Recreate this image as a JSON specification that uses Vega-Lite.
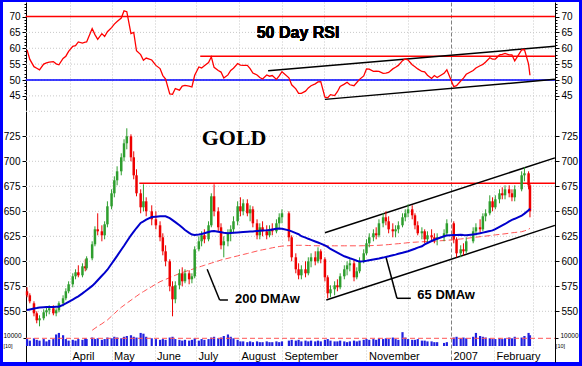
{
"$schema":"https://vega.github.io/schema/vega-lite/v6.json",
"width":576,"height":360,"autosize":"none",
"padding":{"left":3,"top":2,"right":3,"bottom":4},
"background":"#0000ff",
"config":{"view":{"fill":"#ffffff","stroke":null},"axis":{"labelFont":"Liberation Sans","labelColor":"#000000","tickColor":"#000000","domainColor":"#000000","labelFontSize":10,"grid":false}},
"datasets":{
"main":[
{"d":"2006-03-01","o":570,"h":574,"l":564,"c":566,"r":59.5,"v":9000,"m":551.3},
{"d":"2006-03-03","o":566,"h":568,"l":558,"c":560,"r":56.5,"v":7000,"m":551.9},
{"d":"2006-03-06","o":558,"h":560,"l":545,"c":548,"r":54.2,"v":10000,"m":552.8},
{"d":"2006-03-08","o":548,"h":550,"l":538,"c":541,"r":53.7,"v":8000,"m":553.3},
{"d":"2006-03-10","o":541,"h":546,"l":535,"c":543,"r":53.2,"v":7000,"m":553.9},
{"d":"2006-03-13","o":543,"h":552,"l":541,"c":549,"r":55.0,"v":9000,"m":554.1},
{"d":"2006-03-15","o":549,"h":554,"l":545,"c":551,"r":55.4,"v":6000,"m":554.2},
{"d":"2006-03-17","o":551,"h":556,"l":547,"c":553,"r":55.6,"v":8000,"m":554.3},
{"d":"2006-03-20","o":553,"h":556,"l":546,"c":548,"r":55.8,"v":9000,"m":554.4},
{"d":"2006-03-22","o":548,"h":553,"l":545,"c":551,"r":55.1,"v":15000,"m":554.5},
{"d":"2006-03-24","o":551,"h":560,"l":549,"c":558,"r":54.8,"v":17000,"m":554.6},
{"d":"2006-03-27","o":558,"h":566,"l":555,"c":563,"r":56.8,"v":14000,"m":556.4},
{"d":"2006-03-29","o":563,"h":573,"l":561,"c":570,"r":57.5,"v":9000,"m":557.9},
{"d":"2006-03-31","o":570,"h":580,"l":568,"c":577,"r":59.0,"v":7000,"m":559.5},
{"d":"2006-04-03","o":577,"h":588,"l":574,"c":585,"r":60.6,"v":8000,"m":561.8},
{"d":"2006-04-05","o":585,"h":592,"l":582,"c":589,"r":60.8,"v":7000,"m":563.4},
{"d":"2006-04-07","o":589,"h":596,"l":584,"c":586,"r":62.0,"v":9000,"m":565.0},
{"d":"2006-04-10","o":586,"h":598,"l":584,"c":595,"r":61.6,"v":8000,"m":567.9},
{"d":"2006-04-12","o":595,"h":602,"l":590,"c":593,"r":61.9,"v":10000,"m":570.0},
{"d":"2006-04-13","o":593,"h":605,"l":591,"c":603,"r":62.0,"v":9000,"m":571.1},
{"d":"2006-04-17","o":603,"h":620,"l":601,"c":617,"r":66.2,"v":11000,"m":575.4,"s":531},
{"d":"2006-04-19","o":617,"h":635,"l":615,"c":632,"r":64.3,"v":9000,"m":578.0,"s":533},
{"d":"2006-04-21","o":632,"h":648,"l":626,"c":630,"r":62.8,"v":10000,"m":581.0,"s":535},
{"d":"2006-04-24","o":630,"h":636,"l":620,"c":626,"r":64.6,"v":8000,"m":585.5,"s":537.5},
{"d":"2006-04-26","o":626,"h":640,"l":622,"c":637,"r":63.7,"v":9000,"m":588.4,"s":539.5},
{"d":"2006-04-28","o":637,"h":660,"l":634,"c":655,"r":65.2,"v":11000,"m":591.6,"s":541.3},
{"d":"2006-05-01","o":655,"h":672,"l":652,"c":668,"r":66.5,"v":10000,"m":597.6,"s":545.2},
{"d":"2006-05-03","o":668,"h":685,"l":664,"c":681,"r":67.6,"v":12000,"m":601.5,"s":547.7},
{"d":"2006-05-05","o":681,"h":695,"l":676,"c":690,"r":68.4,"v":11000,"m":605.4,"s":550.3},
{"d":"2006-05-08","o":690,"h":708,"l":686,"c":704,"r":69.5,"v":10000,"m":611.6,"s":554.0},
{"d":"2006-05-10","o":704,"h":722,"l":700,"c":718,"r":71.8,"v":12000,"m":615.6,"s":556.0},
{"d":"2006-05-12","o":718,"h":733,"l":712,"c":725,"r":71.5,"v":13000,"m":619.8,"s":558.1},
{"d":"2006-05-15","o":725,"h":727,"l":700,"c":704,"r":64.6,"v":14000,"m":626.0,"s":561.1},
{"d":"2006-05-17","o":704,"h":710,"l":682,"c":686,"r":65.0,"v":12000,"m":629.6,"s":563.1},
{"d":"2006-05-19","o":686,"h":692,"l":665,"c":668,"r":59.2,"v":11000,"m":633.3,"s":565.1},
{"d":"2006-05-22","o":668,"h":672,"l":648,"c":654,"r":58.0,"v":17000,"m":638.4,"s":568.1},
{"d":"2006-05-24","o":654,"h":677,"l":650,"c":660,"r":56.2,"v":16000,"m":640.0,"s":569.7},
{"d":"2006-05-26","o":660,"h":664,"l":645,"c":650,"r":56.9,"v":12000,"m":641.7,"s":571.4},
{"d":"2006-05-30","o":650,"h":656,"l":636,"c":642,"r":56.3,"v":10000,"m":644.2,"s":574.7},
{"d":"2006-06-02","o":642,"h":650,"l":632,"c":636,"r":54.6,"v":9000,"m":644.6,"s":577.2},
{"d":"2006-06-05","o":636,"h":640,"l":620,"c":624,"r":53.6,"v":8000,"m":645.0,"s":579.6},
{"d":"2006-06-07","o":624,"h":628,"l":606,"c":610,"r":51.4,"v":9000,"m":645.0,"s":580.8},
{"d":"2006-06-09","o":610,"h":616,"l":595,"c":600,"r":50.3,"v":8000,"m":645.0,"s":581.9},
{"d":"2006-06-12","o":600,"h":602,"l":570,"c":575,"r":45.6,"v":11000,"m":643.1,"s":583.7},
{"d":"2006-06-14","o":575,"h":580,"l":545,"c":562,"r":45.5,"v":12000,"m":641.2,"s":584.9},
{"d":"2006-06-16","o":562,"h":580,"l":558,"c":576,"r":47.3,"v":9000,"m":639.2,"s":586.0},
{"d":"2006-06-19","o":576,"h":592,"l":572,"c":588,"r":46.8,"v":8000,"m":636.0,"s":587.8},
{"d":"2006-06-21","o":588,"h":594,"l":575,"c":580,"r":48.1,"v":7000,"m":633.7,"s":588.7},
{"d":"2006-06-23","o":580,"h":592,"l":578,"c":588,"r":48.3,"v":8000,"m":631.3,"s":589.7},
{"d":"2006-06-26","o":588,"h":591,"l":577,"c":582,"r":48.1,"v":7000,"m":628.4,"s":591.0},
{"d":"2006-06-28","o":582,"h":588,"l":578,"c":585,"r":47.8,"v":8000,"m":626.7,"s":591.9},
{"d":"2006-06-30","o":585,"h":615,"l":583,"c":612,"r":51.5,"v":10000,"m":626.3,"s":592.8},
{"d":"2006-07-03","o":612,"h":625,"l":610,"c":620,"r":54.1,"v":7000,"m":626.7,"s":594.2},
{"d":"2006-07-05","o":620,"h":630,"l":615,"c":626,"r":53.8,"v":9000,"m":627.3,"s":595.1},
{"d":"2006-07-07","o":626,"h":632,"l":618,"c":622,"r":54.5,"v":8000,"m":628.1,"s":596.0},
{"d":"2006-07-10","o":622,"h":640,"l":620,"c":636,"r":55.5,"v":9000,"m":629.3,"s":597.3},
{"d":"2006-07-12","o":636,"h":668,"l":634,"c":665,"r":57.3,"v":11000,"m":630.1,"s":598.2},
{"d":"2006-07-14","o":665,"h":677,"l":645,"c":650,"r":54.0,"v":12000,"m":630.4,"s":599.1},
{"d":"2006-07-17","o":650,"h":654,"l":630,"c":634,"r":53.0,"v":10000,"m":629.6,"s":600.4},
{"d":"2006-07-19","o":634,"h":638,"l":612,"c":616,"r":52.5,"v":11000,"m":629.1,"s":601.3},
{"d":"2006-07-21","o":616,"h":625,"l":604,"c":620,"r":50.6,"v":13000,"m":628.6,"s":602.0},
{"d":"2006-07-24","o":620,"h":632,"l":615,"c":628,"r":51.6,"v":15000,"m":628.1,"s":603.0},
{"d":"2006-07-26","o":628,"h":636,"l":620,"c":632,"r":53.0,"v":12000,"m":628.3,"s":603.7},
{"d":"2006-07-28","o":632,"h":645,"l":628,"c":640,"r":53.7,"v":10000,"m":628.5,"s":604.4},
{"d":"2006-07-31","o":640,"h":660,"l":636,"c":655,"r":55.2,"v":8000,"m":628.8,"s":605.4},
{"d":"2006-08-02","o":655,"h":664,"l":645,"c":650,"r":54.7,"v":6000,"m":629.0,"s":606.1},
{"d":"2006-08-04","o":650,"h":662,"l":646,"c":658,"r":54.6,"v":6000,"m":629.2,"s":606.8},
{"d":"2006-08-07","o":658,"h":662,"l":645,"c":648,"r":54.6,"v":5000,"m":629.5,"s":607.8},
{"d":"2006-08-09","o":648,"h":656,"l":640,"c":652,"r":53.6,"v":6000,"m":629.7,"s":608.5},
{"d":"2006-08-11","o":652,"h":655,"l":634,"c":638,"r":52.2,"v":5000,"m":629.9,"s":609.2},
{"d":"2006-08-14","o":638,"h":642,"l":622,"c":626,"r":51.6,"v":6000,"m":630.3,"s":610.3},
{"d":"2006-08-16","o":626,"h":638,"l":622,"c":634,"r":50.8,"v":5000,"m":630.5,"s":611.0},
{"d":"2006-08-18","o":634,"h":640,"l":625,"c":630,"r":50.3,"v":5000,"m":630.7,"s":611.5},
{"d":"2006-08-21","o":630,"h":636,"l":622,"c":626,"r":51.6,"v":6000,"m":631.0,"s":612.3},
{"d":"2006-08-23","o":626,"h":636,"l":624,"c":632,"r":51.2,"v":5000,"m":631.4,"s":612.9},
{"d":"2006-08-25","o":632,"h":638,"l":626,"c":630,"r":51.4,"v":5000,"m":631.9,"s":613.5},
{"d":"2006-08-28","o":630,"h":642,"l":628,"c":638,"r":50.2,"v":6000,"m":632.5,"s":614.3},
{"d":"2006-08-30","o":638,"h":648,"l":632,"c":644,"r":51.3,"v":5000,"m":632.9,"s":614.8},
{"d":"2006-09-01","o":644,"h":652,"l":638,"c":648,"r":52.6,"v":6000,"m":632.5,"s":615.2},
{"d":"2006-09-06","o":648,"h":650,"l":620,"c":624,"r":50.7,"v":7000,"m":630.9,"s":615.6},
{"d":"2006-09-08","o":624,"h":626,"l":600,"c":604,"r":48.5,"v":8000,"m":629.9,"s":615.8},
{"d":"2006-09-11","o":604,"h":608,"l":588,"c":592,"r":47.2,"v":7000,"m":628.2,"s":616},
{"d":"2006-09-13","o":592,"h":598,"l":582,"c":586,"r":45.8,"v":8000,"m":627.1,"s":616},
{"d":"2006-09-15","o":586,"h":596,"l":582,"c":592,"r":45.8,"v":6000,"m":625.1,"s":616},
{"d":"2006-09-18","o":592,"h":600,"l":584,"c":588,"r":46.5,"v":7000,"m":623.7,"s":615.9},
{"d":"2006-09-20","o":588,"h":604,"l":586,"c":600,"r":47.5,"v":6000,"m":622.5,"s":615.8},
{"d":"2006-09-22","o":600,"h":608,"l":594,"c":604,"r":48.2,"v":7000,"m":621.4,"s":615.7},
{"d":"2006-09-25","o":604,"h":610,"l":596,"c":600,"r":48.8,"v":6000,"m":619.8,"s":615.6},
{"d":"2006-09-27","o":600,"h":614,"l":598,"c":610,"r":49.4,"v":7000,"m":618.8,"s":615.5},
{"d":"2006-09-29","o":610,"h":612,"l":598,"c":602,"r":49.5,"v":6000,"m":617.6,"s":615.5},
{"d":"2006-10-02","o":602,"h":604,"l":580,"c":584,"r":44.6,"v":8000,"m":615.9,"s":615.5},
{"d":"2006-10-04","o":584,"h":586,"l":563,"c":568,"r":44.4,"v":9000,"m":614.4,"s":615.5},
{"d":"2006-10-06","o":568,"h":576,"l":564,"c":572,"r":45.4,"v":7000,"m":612.3,"s":615.5},
{"d":"2006-10-09","o":572,"h":580,"l":566,"c":576,"r":45.1,"v":6000,"m":610.1,"s":615.5},
{"d":"2006-10-11","o":576,"h":582,"l":570,"c":574,"r":46.3,"v":6000,"m":608.6,"s":615.5},
{"d":"2006-10-13","o":574,"h":588,"l":572,"c":585,"r":48.0,"v":7000,"m":607.1,"s":615.5},
{"d":"2006-10-16","o":585,"h":596,"l":582,"c":592,"r":48.7,"v":6000,"m":605.0,"s":615.5},
{"d":"2006-10-18","o":592,"h":600,"l":586,"c":596,"r":49.3,"v":5000,"m":604.0,"s":615.5},
{"d":"2006-10-20","o":596,"h":602,"l":590,"c":598,"r":48.5,"v":6000,"m":603.0,"s":615.5},
{"d":"2006-10-23","o":598,"h":602,"l":580,"c":584,"r":48.2,"v":7000,"m":601.7,"s":615.5},
{"d":"2006-10-25","o":584,"h":594,"l":582,"c":590,"r":49.2,"v":6000,"m":600.6,"s":615.5},
{"d":"2006-10-27","o":590,"h":604,"l":588,"c":600,"r":50.2,"v":7000,"m":599.7,"s":615.5},
{"d":"2006-10-30","o":600,"h":612,"l":598,"c":608,"r":51.3,"v":8000,"m":600.1,"s":615.6},
{"d":"2006-11-01","o":608,"h":622,"l":606,"c":618,"r":53.5,"v":9000,"m":600.5,"s":615.6},
{"d":"2006-11-03","o":618,"h":628,"l":614,"c":624,"r":53.4,"v":8000,"m":601.0,"s":615.6},
{"d":"2006-11-06","o":624,"h":632,"l":620,"c":628,"r":52.7,"v":9000,"m":601.8,"s":615.8},
{"d":"2006-11-08","o":628,"h":634,"l":622,"c":626,"r":52.8,"v":8000,"m":602.3,"s":615.9},
{"d":"2006-11-10","o":626,"h":642,"l":624,"c":638,"r":52.7,"v":10000,"m":602.8,"s":616},
{"d":"2006-11-13","o":638,"h":648,"l":634,"c":644,"r":52.1,"v":9000,"m":603.7,"s":616.3},
{"d":"2006-11-15","o":644,"h":650,"l":636,"c":640,"r":52.2,"v":10000,"m":604.4,"s":616.5},
{"d":"2006-11-17","o":640,"h":645,"l":628,"c":632,"r":52.4,"v":9000,"m":605.0,"s":616.7},
{"d":"2006-11-20","o":632,"h":638,"l":624,"c":630,"r":53.5,"v":11000,"m":606.0,"s":617.1},
{"d":"2006-11-22","o":630,"h":636,"l":624,"c":632,"r":54.0,"v":9000,"m":606.7,"s":617.4},
{"d":"2006-11-24","o":632,"h":640,"l":628,"c":636,"r":54.6,"v":8000,"m":607.5,"s":617.6},
{"d":"2006-11-27","o":636,"h":648,"l":634,"c":644,"r":56.1,"v":18000,"m":608.5,"s":618},
{"d":"2006-11-29","o":644,"h":652,"l":640,"c":648,"r":56.6,"v":11000,"m":609.3,"s":618.3},
{"d":"2006-12-01","o":648,"h":657,"l":644,"c":652,"r":56.3,"v":9000,"m":610.0,"s":618.6},
{"d":"2006-12-04","o":652,"h":656,"l":642,"c":646,"r":54.8,"v":8000,"m":611.6,"s":619},
{"d":"2006-12-06","o":646,"h":648,"l":632,"c":636,"r":54.2,"v":8000,"m":612.6,"s":619.1},
{"d":"2006-12-08","o":636,"h":640,"l":626,"c":628,"r":53.5,"v":9000,"m":613.7,"s":619.3},
{"d":"2006-12-11","o":628,"h":634,"l":622,"c":630,"r":52.7,"v":7000,"m":615.0,"s":619.5},
{"d":"2006-12-13","o":630,"h":632,"l":618,"c":622,"r":52.6,"v":7000,"m":616.9,"s":619.7},
{"d":"2006-12-15","o":622,"h":630,"l":618,"c":626,"r":51.5,"v":6000,"m":618.3,"s":619.8},
{"d":"2006-12-18","o":626,"h":632,"l":620,"c":624,"r":50.5,"v":6000,"m":620.3,"s":620},
{"d":"2006-12-20","o":624,"h":628,"l":618,"c":622,"r":51.4,"v":5000,"m":621.5,"s":620.2},
{"d":"2006-12-22","o":622,"h":628,"l":616,"c":624,"r":50.8,"v":5000,"m":622.5,"s":620.3},
{"d":"2006-12-27","o":624,"h":632,"l":620,"c":628,"r":52.1,"v":4000,"m":625.0,"s":620.8},
{"d":"2006-12-29","o":628,"h":642,"l":626,"c":638,"r":53.2,"v":5000,"m":625.9,"s":621},
{"d":"2007-01-03","o":638,"h":640,"l":618,"c":622,"r":47.9,"v":11000,"m":626.2,"s":621.6},
{"d":"2007-01-05","o":622,"h":624,"l":604,"c":608,"r":48.2,"v":12000,"m":626.3,"s":622},
{"d":"2007-01-08","o":608,"h":616,"l":604,"c":612,"r":49.7,"v":10000,"m":626.5,"s":622.3},
{"d":"2007-01-10","o":612,"h":618,"l":606,"c":610,"r":50.6,"v":11000,"m":626.2,"s":622.6},
{"d":"2007-01-12","o":610,"h":624,"l":608,"c":620,"r":51.8,"v":10000,"m":626.0,"s":622.9},
{"d":"2007-01-17","o":620,"h":634,"l":618,"c":630,"r":53.0,"v":12000,"m":626.9,"s":623.8},
{"d":"2007-01-19","o":630,"h":638,"l":626,"c":634,"r":53.8,"v":17000,"m":627.3,"s":624.1},
{"d":"2007-01-22","o":634,"h":642,"l":628,"c":632,"r":54.5,"v":13000,"m":628.0,"s":624.6},
{"d":"2007-01-24","o":632,"h":648,"l":630,"c":645,"r":54.9,"v":12000,"m":628.7,"s":625},
{"d":"2007-01-26","o":645,"h":652,"l":640,"c":648,"r":55.7,"v":11000,"m":629.3,"s":625.2},
{"d":"2007-01-29","o":648,"h":666,"l":646,"c":660,"r":57.0,"v":10000,"m":630.2,"s":625.7},
{"d":"2007-01-31","o":660,"h":664,"l":650,"c":654,"r":56.6,"v":9000,"m":630.9,"s":626.1},
{"d":"2007-02-02","o":654,"h":666,"l":652,"c":662,"r":56.6,"v":9000,"m":632.2,"s":626.4},
{"d":"2007-02-05","o":662,"h":672,"l":658,"c":668,"r":57.9,"v":10000,"m":634.4,"s":626.9},
{"d":"2007-02-07","o":668,"h":674,"l":662,"c":666,"r":58.1,"v":9000,"m":635.9,"s":627.2},
{"d":"2007-02-09","o":666,"h":676,"l":662,"c":672,"r":58.4,"v":10000,"m":637.3,"s":627.5},
{"d":"2007-02-12","o":672,"h":676,"l":664,"c":668,"r":57.9,"v":11000,"m":640.0,"s":628.1},
{"d":"2007-02-14","o":668,"h":672,"l":660,"c":664,"r":57.9,"v":10000,"m":641.5,"s":628.5},
{"d":"2007-02-16","o":664,"h":676,"l":660,"c":672,"r":56.0,"v":12000,"m":642.5,"s":628.8},
{"d":"2007-02-21","o":672,"h":690,"l":670,"c":686,"r":59.5,"v":11000,"m":645.6,"s":629.6},
{"d":"2007-02-23","o":686,"h":694,"l":680,"c":688,"r":59.6,"v":13000,"m":647.7,"s":630.4},
{"d":"2007-02-26","o":688,"h":690,"l":672,"c":676,"r":55.0,"v":17000,"m":651.0,"s":632},
{"d":"2007-02-27","o":676,"h":678,"l":644,"c":650,"r":51.5,"v":14000,"m":652.7,"s":633}
],
"gridR":[{"g":45},{"g":50},{"g":55},{"g":60},{"g":65},{"g":70}],
"gridP":[{"g":550},{"g":575},{"g":600},{"g":625},{"g":650},{"g":675},{"g":700},{"g":725},{"g":750}],
"rsiLines":[
{"k":"ob","d0":"2006-02-28","d1":"2007-03-17","v0":70,"v1":70},
{"k":"mid","d0":"2006-02-28","d1":"2007-03-17","v0":50,"v1":50},
{"k":"res","d0":"2006-07-04","d1":"2007-03-17","v0":57.5,"v1":57.5},
{"k":"up","d0":"2006-08-22","d1":"2007-03-17","v0":52.9,"v1":60.6},
{"k":"lo","d0":"2006-10-02","d1":"2007-03-17","v0":43.9,"v1":50.2}
],
"pxLines":[
{"k":"res","d0":"2006-05-21","d1":"2007-03-17","v0":678,"v1":678},
{"k":"up","d0":"2006-10-02","d1":"2007-03-17","v0":628.6,"v1":703.4},
{"k":"lo","d0":"2006-10-03","d1":"2007-03-17","v0":561.3,"v1":635.9},
{"k":"p1","d0":"2006-07-09","d1":"2006-07-18","v0":592,"v1":561.3},
{"k":"p1","d0":"2006-07-18","d1":"2006-07-24","v0":561.3,"v1":561.3},
{"k":"p2","d0":"2006-11-15","d1":"2006-11-23","v0":604.6,"v1":563},
{"k":"p2","d0":"2006-11-23","d1":"2006-12-03","v0":563,"v1":563}
],
"volNote":[{"t":"[10]","d":"2006-02-15T06:00:00Z"},{"t":"[10]","d":"2007-03-21T00:00:00Z"}]
},
"resolve":{"scale":{"y":"independent","color":"independent"}},
"layer":[
{"data":{"name":"gridR"},"mark":{"type":"rule","color":"#c8c8c8","strokeDash":[1,2],"strokeWidth":1},
"encoding":{"x":{"datum":{"year":2006,"month":2,"date":28,"hours":6,"utc":true},"type":"temporal","title":null,"scale":{"type":"utc","domain":[{"year":2006,"month":2,"date":11,"hours":15,"minutes":22,"utc":true},{"year":2007,"month":4,"date":3,"hours":9,"minutes":22,"utc":true}],"nice":false}},
"x2":{"datum":{"year":2007,"month":3,"date":17,"utc":true}},
"y":{"field":"g","type":"quantitative","title":null,"scale":{"domain":[-38.82,74.57],"nice":false,"zero":false},
"axis":{"orient":"left","offset":-23,"values":[45,50,55,60,65,70],"tickSize":4,"labelPadding":2,"domain":true,"title":null}}}},
{"data":{"name":"gridP"},"mark":{"type":"rule","color":"#c8c8c8","strokeDash":[1,2],"strokeWidth":1},
"encoding":{"x":{"datum":{"year":2006,"month":2,"date":28,"hours":6,"utc":true},"type":"temporal","title":null,"scale":{"type":"utc","domain":[{"year":2006,"month":2,"date":11,"hours":15,"minutes":22,"utc":true},{"year":2007,"month":4,"date":3,"hours":9,"minutes":22,"utc":true}],"nice":false}},
"x2":{"datum":{"year":2007,"month":3,"date":17,"utc":true}},
"y":{"field":"g","type":"quantitative","title":null,"scale":{"domain":[499.3,859.3],"nice":false,"zero":false},
"axis":{"orient":"left","offset":-23,"values":[550,575,600,625,650,675,700,725],"tickSize":4,"labelPadding":2,"domain":false,"title":null}}}},
{"data":{"name":"rsiLines"},"mark":{"type":"rule","strokeWidth":1.5},
"encoding":{"x":{"field":"d0","type":"temporal","title":null,"scale":{"type":"utc","domain":[{"year":2006,"month":2,"date":11,"hours":15,"minutes":22,"utc":true},{"year":2007,"month":4,"date":3,"hours":9,"minutes":22,"utc":true}],"nice":false}},
"x2":{"field":"d1"},
"y":{"field":"v0","type":"quantitative","title":null,"scale":{"domain":[-38.82,74.57],"nice":false,"zero":false},
"axis":{"orient":"right","offset":-24,"values":[45,50,55,60,65,70],"tickSize":4,"labelPadding":2,"domain":true,"title":null}},
"y2":{"field":"v1"},
"color":{"field":"k","type":"nominal","legend":null,"scale":{"domain":["ob","mid","res","up","lo"],"range":["#ff0000","#0000ff","#ff0000","#000000","#000000"]}}}},
{"data":{"name":"pxLines"},"mark":{"type":"rule","strokeWidth":1.5},
"encoding":{"x":{"field":"d0","type":"temporal","title":null,"scale":{"type":"utc","domain":[{"year":2006,"month":2,"date":11,"hours":15,"minutes":22,"utc":true},{"year":2007,"month":4,"date":3,"hours":9,"minutes":22,"utc":true}],"nice":false}},
"x2":{"field":"d1"},
"y":{"field":"v0","type":"quantitative","title":null,"scale":{"domain":[499.3,859.3],"nice":false,"zero":false},
"axis":{"orient":"right","offset":-24,"values":[550,575,600,625,650,675,700,725],"tickSize":4,"labelPadding":2,"domain":false,"title":null}},
"y2":{"field":"v1"},
"color":{"field":"k","type":"nominal","legend":null,"scale":{"domain":["res","up","lo","p1","p2"],"range":["#ff0000","#000000","#000000","#000000","#000000"]}}}},
{"data":{"name":"main"},"mark":{"type":"rule","color":"#2020e0","strokeWidth":2.2},
"encoding":{"x":{"field":"d","type":"temporal","title":null,"scale":{"type":"utc","domain":[{"year":2006,"month":2,"date":11,"hours":15,"minutes":22,"utc":true},{"year":2007,"month":4,"date":3,"hours":9,"minutes":22,"utc":true}],"nice":false}},
"y":{"field":"v","type":"quantitative","title":null,"scale":{"domain":[-20800,447200],"nice":false,"zero":false},
"axis":{"orient":"left","offset":-23,"values":[10000],"format":"d","tickSize":3,"labelPadding":2,"labelFontSize":6.5,"labelBaseline":"bottom","domain":false,"title":null}},
"y2":{"datum":0}}},
{"data":{"values":[{"n":1}]},"mark":{"type":"rule","color":"#ff5555","strokeDash":[5,3],"strokeWidth":1},
"encoding":{"x":{"datum":{"year":2006,"month":2,"date":28,"hours":6,"utc":true},"type":"temporal","title":null,"scale":{"type":"utc","domain":[{"year":2006,"month":2,"date":11,"hours":15,"minutes":22,"utc":true},{"year":2007,"month":4,"date":3,"hours":9,"minutes":22,"utc":true}],"nice":false}},
"x2":{"datum":{"year":2007,"month":3,"date":17,"utc":true}},
"y":{"datum":10000,"type":"quantitative","title":null,"scale":{"domain":[-20800,447200],"nice":false,"zero":false},
"axis":{"orient":"right","offset":-24,"values":[10000],"format":"d","tickSize":3,"labelPadding":2,"labelFontSize":6.5,"labelBaseline":"bottom","domain":false,"title":null}}}},
{"data":{"name":"volNote"},"mark":{"type":"text","font":"Liberation Sans","fontSize":5.5,"align":"center","baseline":"top","color":"#000000"},
"encoding":{"x":{"field":"d","type":"temporal","title":null,"scale":{"type":"utc","domain":[{"year":2006,"month":2,"date":11,"hours":15,"minutes":22,"utc":true},{"year":2007,"month":4,"date":3,"hours":9,"minutes":22,"utc":true}],"nice":false}},
"y":{"datum":3000,"type":"quantitative","title":null,"scale":{"domain":[-20800,447200],"nice":false,"zero":false},"axis":null},
"text":{"field":"t"}}},
{"data":{"name":"main"},"mark":{"type":"line","color":"#ff0000","strokeWidth":1.3},
"encoding":{"x":{"field":"d","type":"temporal","title":null,"scale":{"type":"utc","domain":[{"year":2006,"month":2,"date":11,"hours":15,"minutes":22,"utc":true},{"year":2007,"month":4,"date":3,"hours":9,"minutes":22,"utc":true}],"nice":false}},
"y":{"field":"r","type":"quantitative","title":null,"scale":{"domain":[-38.82,74.57],"nice":false,"zero":false},
"axis":{"orient":"left","offset":-23,"values":[44,46,47,48,49,51,52,53,54,56,57,58,59,61,62,63,64,66,67,68,69,71,72,73,74],"tickSize":2,"labels":false,"domain":false,"title":null}}}},
{"data":{"name":"main"},"mark":{"type":"line","color":"#ff5555","strokeWidth":1,"strokeDash":[6,3]},
"encoding":{"x":{"field":"d","type":"temporal","title":null,"scale":{"type":"utc","domain":[{"year":2006,"month":2,"date":11,"hours":15,"minutes":22,"utc":true},{"year":2007,"month":4,"date":3,"hours":9,"minutes":22,"utc":true}],"nice":false}},
"y":{"field":"s","type":"quantitative","title":null,"scale":{"domain":[499.3,859.3],"nice":false,"zero":false},"axis":null}}},
{"data":{"name":"main"},"mark":{"type":"rule","strokeWidth":1},
"encoding":{"x":{"field":"d","type":"temporal","title":null,"scale":{"type":"utc","domain":[{"year":2006,"month":2,"date":11,"hours":15,"minutes":22,"utc":true},{"year":2007,"month":4,"date":3,"hours":9,"minutes":22,"utc":true}],"nice":false},
"axis":{"orient":"bottom","offset":-14,"title":null,"values":[{"year":2006,"month":4,"date":1,"utc":true},{"year":2006,"month":5,"date":1,"utc":true},{"year":2006,"month":6,"date":1,"utc":true},{"year":2006,"month":7,"date":1,"utc":true},{"year":2006,"month":8,"date":1,"utc":true},{"year":2006,"month":9,"date":1,"utc":true},{"year":2006,"month":10,"date":1,"utc":true},{"year":2006,"month":11,"date":1,"utc":true},{"year":2006,"month":12,"date":1,"utc":true},{"year":2007,"month":1,"date":1,"utc":true},{"year":2007,"month":2,"date":1,"utc":true},{"year":2007,"month":3,"date":1,"utc":true}],
"labelExpr":"utcmonth(datum.value)==0 ? utcFormat(datum.value,'%Y') : ((utcmonth(datum.value)==9 || utcmonth(datum.value)==11 || utcmonth(datum.value)==2) ? '' : utcFormat(datum.value,'%B'))",
"labelAlign":"left","labelBaseline":"top","labelPadding":2,"labelOffset":2,"labelFontSize":11,"labelOverlap":false,"labelFlush":false,"tickSize":0,"domain":false,"grid":true,
"gridDash":{"condition":{"test":"utcmonth(datum.value)==0","value":[4,2]},"value":[1,2]},
"gridColor":{"condition":{"test":"utcmonth(datum.value)==0","value":"#808080"},"value":"#c8c8c8"}}},
"y":{"field":"l","type":"quantitative","title":null,"scale":{"domain":[499.3,859.3],"nice":false,"zero":false},"axis":null},
"y2":{"field":"h"},
"color":{"condition":{"test":"datum.c >= datum.o","value":"#2e9e2e"},"value":"#ee0000"}}},
{"data":{"name":"main"},"mark":{"type":"rule","strokeWidth":2.5},
"encoding":{"x":{"field":"d","type":"temporal","title":null,"scale":{"type":"utc","domain":[{"year":2006,"month":2,"date":11,"hours":15,"minutes":22,"utc":true},{"year":2007,"month":4,"date":3,"hours":9,"minutes":22,"utc":true}],"nice":false}},
"y":{"field":"o","type":"quantitative","title":null,"scale":{"domain":[499.3,859.3],"nice":false,"zero":false},"axis":null},
"y2":{"field":"c"},
"color":{"condition":{"test":"datum.c >= datum.o","value":"#2e9e2e"},"value":"#ee0000"}}},
{"data":{"name":"main"},"mark":{"type":"line","color":"#0000cc","strokeWidth":2},
"encoding":{"x":{"field":"d","type":"temporal","title":null,"scale":{"type":"utc","domain":[{"year":2006,"month":2,"date":11,"hours":15,"minutes":22,"utc":true},{"year":2007,"month":4,"date":3,"hours":9,"minutes":22,"utc":true}],"nice":false}},
"y":{"field":"m","type":"quantitative","title":null,"scale":{"domain":[499.3,859.3],"nice":false,"zero":false},"axis":null}}},
{"data":{"name":"gridR"},"mark":{"type":"text","text":"50 Day RSI","font":"Liberation Sans","fontWeight":"bold","fontSize":16,"align":"left","baseline":"alphabetic","color":"#000000"},
"encoding":{"x":{"datum":{"year":2006,"month":8,"date":13,"hours":18,"utc":true},"type":"temporal","title":null,"scale":{"type":"utc","domain":[{"year":2006,"month":2,"date":11,"hours":15,"minutes":22,"utc":true},{"year":2007,"month":4,"date":3,"hours":9,"minutes":22,"utc":true}],"nice":false}},
"y":{"datum":63.1,"type":"quantitative","title":null,"scale":{"domain":[-38.82,74.57],"nice":false,"zero":false},
"axis":{"orient":"right","offset":-24,"values":[44,46,47,48,49,51,52,53,54,56,57,58,59,61,62,63,64,66,67,68,69,71,72,73,74],"tickSize":2,"labels":false,"domain":false,"title":null}}}},
{"data":{"values":[{"n":1}]},"mark":{"type":"text","text":"GOLD","font":"Liberation Serif","fontWeight":"bold","fontSize":22,"align":"center","baseline":"middle","color":"#000000"},
"encoding":{"x":{"datum":{"year":2006,"month":7,"date":28,"hours":10,"utc":true},"type":"temporal","title":null,"scale":{"type":"utc","domain":[{"year":2006,"month":2,"date":11,"hours":15,"minutes":22,"utc":true},{"year":2007,"month":4,"date":3,"hours":9,"minutes":22,"utc":true}],"nice":false}},
"y":{"datum":723,"type":"quantitative","title":null,"scale":{"domain":[499.3,859.3],"nice":false,"zero":false},"axis":null}}},
{"data":{"values":[{"n":1}]},"mark":{"type":"text","text":"200 DMAw","font":"Liberation Sans","fontWeight":"bold","fontSize":13,"align":"left","baseline":"alphabetic","color":"#000000"},
"encoding":{"x":{"datum":{"year":2006,"month":7,"date":29,"hours":2,"utc":true},"type":"temporal","title":null,"scale":{"type":"utc","domain":[{"year":2006,"month":2,"date":11,"hours":15,"minutes":22,"utc":true},{"year":2007,"month":4,"date":3,"hours":9,"minutes":22,"utc":true}],"nice":false}},
"y":{"datum":558.6,"type":"quantitative","title":null,"scale":{"domain":[499.3,859.3],"nice":false,"zero":false},"axis":null}}},
{"data":{"values":[{"n":1}]},"mark":{"type":"text","text":"65 DMAw","font":"Liberation Sans","fontWeight":"bold","fontSize":13,"align":"left","baseline":"alphabetic","color":"#000000"},
"encoding":{"x":{"datum":{"year":2006,"month":12,"date":7,"hours":17,"utc":true},"type":"temporal","title":null,"scale":{"type":"utc","domain":[{"year":2006,"month":2,"date":11,"hours":15,"minutes":22,"utc":true},{"year":2007,"month":4,"date":3,"hours":9,"minutes":22,"utc":true}],"nice":false}},
"y":{"datum":562,"type":"quantitative","title":null,"scale":{"domain":[499.3,859.3],"nice":false,"zero":false},"axis":null}}}
]
}
